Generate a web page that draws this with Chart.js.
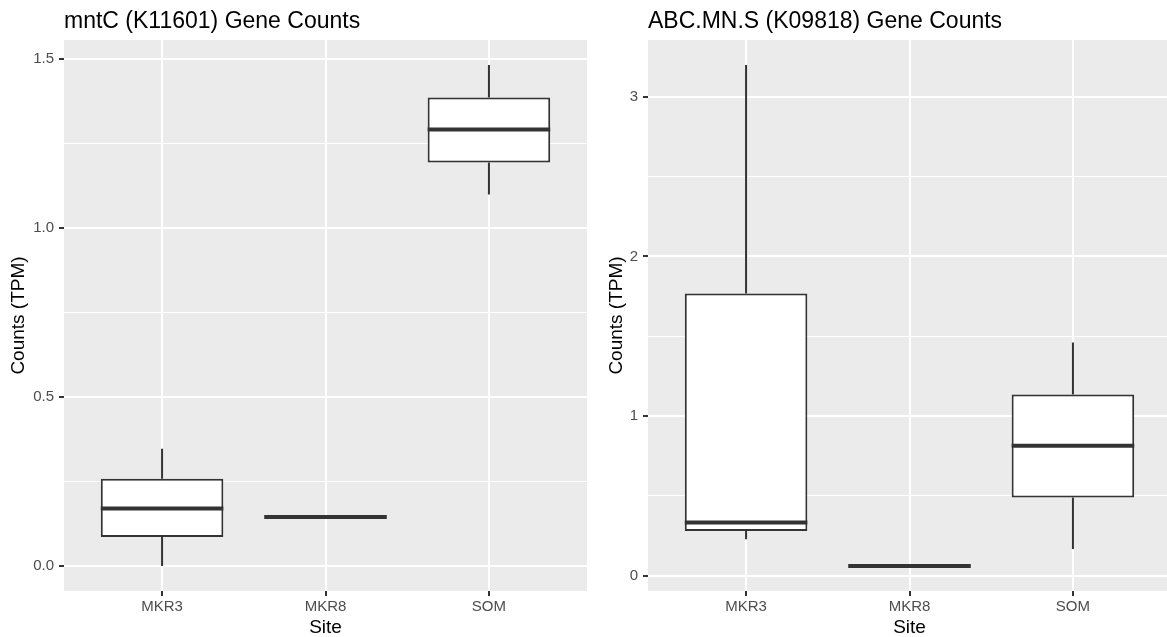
<!DOCTYPE html>
<html>
<head>
<meta charset="utf-8">
<script src="https://cdn.jsdelivr.net/npm/chart.js@4.4.1/dist/chart.umd.min.js"></script>
<style>
  html, body { margin: 0; padding: 0; background: #ffffff; overflow: hidden; width: 1167px; height: 637px; }
  #wrapL { position: absolute; left: 0; top: 0; width: 598px; height: 637px; }
  #wrapR { position: absolute; left: 598px; top: 0; width: 573px; height: 637px; }
</style>
</head>
<body>
<div id="wrapL"><canvas id="cL" width="598" height="637"></canvas></div>
<div id="wrapR"><canvas id="cR" width="573" height="637"></canvas></div>
<script>
// ---------- DATA ----------
const categories = ['MKR3', 'MKR8', 'SOM'];

// Panel 1: mntC (K11601)
const mntC_title = 'mntC (K11601) Gene Counts';
const mntC_min = [0.000, 0.145, 1.099];
const mntC_q1  = [0.086, 0.145, 1.194];
const mntC_med = [0.170, 0.145, 1.291];
const mntC_q3  = [0.258, 0.145, 1.386];
const mntC_max = [0.347, 0.145, 1.482];
const mntC_majorTicks = [0, 0.5, 1.0, 1.5];
const mntC_tickLabels = ['0.0', '0.5', '1.0', '1.5'];
const mntC_minorTicks = [0.25, 0.75, 1.25];

// Panel 2: ABC.MN.S (K09818)
const abc_title = 'ABC.MN.S (K09818) Gene Counts';
const abc_min = [0.229, 0.062, 0.168];
const abc_q1  = [0.281, 0.062, 0.491];
const abc_med = [0.334, 0.062, 0.815];
const abc_q3  = [1.767, 0.062, 1.135];
const abc_max = [3.198, 0.062, 1.461];
const abc_majorTicks = [0, 1, 2, 3];
const abc_tickLabels = ['0', '1', '2', '3'];
const abc_minorTicks = [0.5, 1.5, 2.5];

const xLabel = 'Site';
const yLabel = 'Counts (TPM)';

// ---------- STYLE ----------
const FONT = '"Liberation Sans", Arial, Helvetica, sans-serif';
const PANEL_BG = '#EBEBEB';
const LINE = '#333333';

const panelPlugin = {
  id: 'panelDeco',
  beforeDraw(chart) {
    const ctx = chart.ctx, a = chart.chartArea;
    ctx.save();
    ctx.fillStyle = '#ffffff';
    ctx.fillRect(0, 0, chart.width, chart.height);
    ctx.fillStyle = PANEL_BG;
    ctx.fillRect(a.left, a.top, a.right - a.left, a.bottom - a.top);
    ctx.restore();
  },
  afterDatasetsDraw(chart, args, opts) {
    const ctx = chart.ctx;
    const meta = chart.getDatasetMeta(0);
    const ys = chart.scales.y;
    ctx.save();
    ctx.strokeStyle = LINE;
    ctx.lineCap = 'butt';
    meta.data.forEach((bar, i) => {
      const cx = bar.x;
      const half = bar.width / 2;
      const pMin = ys.getPixelForValue(opts.min[i]);
      const pQ1 = ys.getPixelForValue(opts.q1[i]);
      const pQ3 = ys.getPixelForValue(opts.q3[i]);
      const pMax = ys.getPixelForValue(opts.max[i]);
      const pMed = ys.getPixelForValue(opts.med[i]);
      ctx.lineWidth = 2;
      ctx.beginPath();
      ctx.moveTo(cx, pQ3); ctx.lineTo(cx, pMax);
      ctx.moveTo(cx, pQ1); ctx.lineTo(cx, pMin);
      ctx.stroke();
      ctx.lineWidth = 4;
      ctx.beginPath();
      ctx.moveTo(cx - half, pMed); ctx.lineTo(cx + half, pMed);
      ctx.stroke();
    });
    ctx.restore();
  },
  afterDraw(chart, args, opts) {
    const ctx = chart.ctx;
    ctx.save();
    ctx.fillStyle = '#000000';
    ctx.font = '23px ' + FONT;
    ctx.textBaseline = 'alphabetic';
    ctx.textAlign = 'left';
    ctx.fillText(opts.title, chart.chartArea.left, 27.5);
    ctx.restore();
  }
};

function makeChart(canvasId, cfg) {
  const majors = cfg.majorTicks, minors = cfg.minorTicks;
  const allTicks = majors.concat(minors).sort((a, b) => a - b);
  const isMajor = v => majors.some(m => Math.abs(m - v) < 1e-9);
  const labelFor = v => {
    const k = majors.findIndex(m => Math.abs(m - v) < 1e-9);
    return k >= 0 ? cfg.tickLabels[k] : '';
  };
  const lo = Math.min(...cfg.min), hi = Math.max(...cfg.max);
  const pad = (hi - lo) * 0.05;

  return new Chart(document.getElementById(canvasId), {
    type: 'bar',
    data: {
      datasets: [{
        data: categories.map((c, i) => ({ x: i, y: [cfg.q1[i], cfg.q3[i]] })),
        backgroundColor: '#ffffff',
        borderColor: LINE,
        borderWidth: 2,
        borderSkipped: false,
        barPercentage: 0.75,
        categoryPercentage: 1.0
      }]
    },
    options: {
      responsive: false,
      animation: false,
      devicePixelRatio: 1,
      layout: { padding: { top: 40, left: 0, right: cfg.padRight, bottom: 0 } },
      plugins: {
        legend: { display: false },
        tooltip: { enabled: false },
        title: { display: false },
        panelDeco: { title: cfg.title, min: cfg.min, q1: cfg.q1, med: cfg.med, q3: cfg.q3, max: cfg.max }
      },
      scales: {
        x: {
          type: 'linear',
          min: -0.6,
          max: 2.6,
          offset: false,
          afterBuildTicks: s => { s.ticks = categories.map((c, i) => ({ value: i })); },
          afterFit: s => { s.height = 46; },
          ticks: {
            autoSkip: false,
            maxRotation: 0,
            padding: 2,
            color: '#4D4D4D',
            font: { family: FONT, size: 15 },
            callback: v => categories[v]
          },
          grid: {
            offset: false,
            color: '#ffffff',
            lineWidth: 2,
            drawTicks: true,
            tickLength: 5,
            tickWidth: 2,
            tickColor: LINE
          },
          border: { display: false },
          title: {
            display: true,
            text: xLabel,
            color: '#000000',
            font: { family: FONT, size: 19, lineHeight: 1 },
            padding: { top: 0, bottom: 0 }
          }
        },
        y: {
          type: 'linear',
          min: lo - pad,
          max: hi + pad,
          afterBuildTicks: s => { s.ticks = allTicks.map(v => ({ value: v })); },
          afterFit: s => { s.width = cfg.yWidth; },
          ticks: {
            autoSkip: false,
            padding: 5,
            color: '#4D4D4D',
            font: { family: FONT, size: 15 },
            callback: v => labelFor(v)
          },
          grid: {
            color: '#ffffff',
            lineWidth: ctx => (ctx.tick && isMajor(ctx.tick.value)) ? 2 : 1,
            drawTicks: true,
            tickLength: 5,
            tickWidth: 2,
            tickColor: ctx => (ctx.tick && isMajor(ctx.tick.value)) ? LINE : 'rgba(0,0,0,0)'
          },
          border: { display: false },
          title: {
            display: true,
            text: yLabel,
            color: '#000000',
            font: { family: FONT, size: 19, lineHeight: 1.2 },
            padding: { top: 7.5, bottom: 0 }
          }
        }
      }
    },
    plugins: [panelPlugin]
  });
}

makeChart('cL', {
  title: mntC_title, min: mntC_min, q1: mntC_q1, med: mntC_med, q3: mntC_q3, max: mntC_max,
  majorTicks: mntC_majorTicks, tickLabels: mntC_tickLabels, minorTicks: mntC_minorTicks,
  yWidth: 64, padRight: 11
});
makeChart('cR', {
  title: abc_title, min: abc_min, q1: abc_q1, med: abc_med, q3: abc_q3, max: abc_max,
  majorTicks: abc_majorTicks, tickLabels: abc_tickLabels, minorTicks: abc_minorTicks,
  yWidth: 50, padRight: 0
});
</script>
</body>
</html>
